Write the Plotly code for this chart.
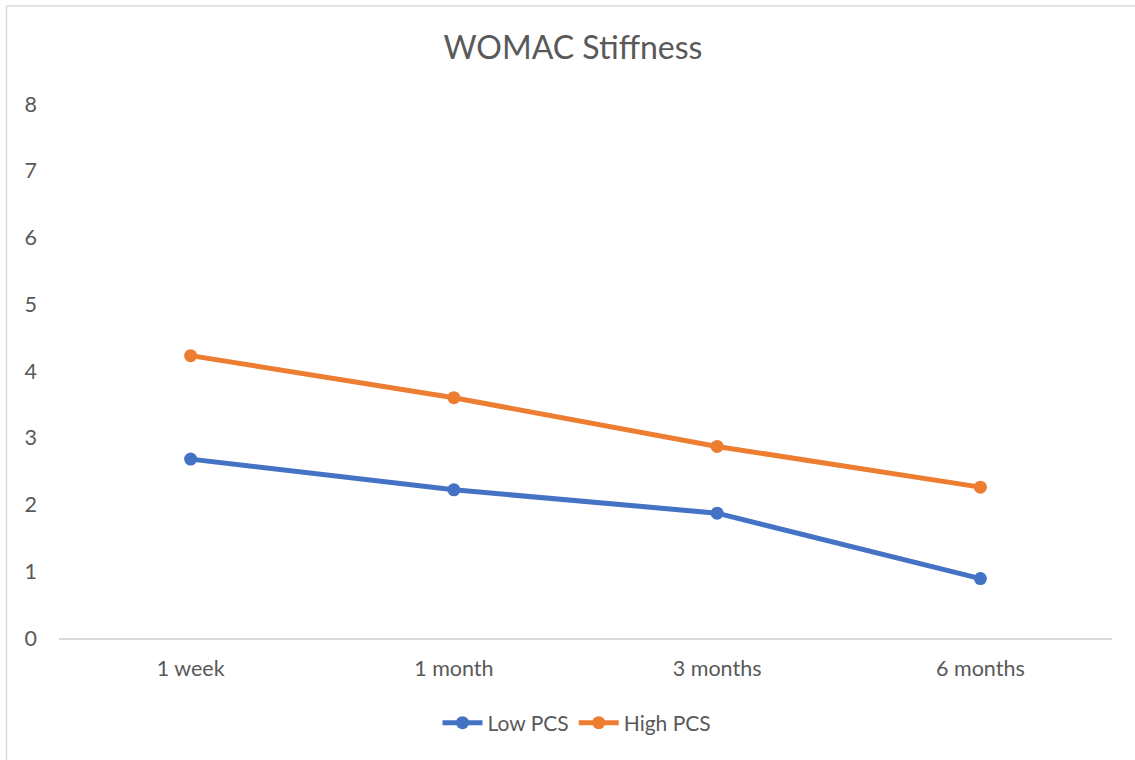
import plotly.graph_objects as go

categories = ["1 week", "1 month", "3 months", "6 months"]
low_pcs = [2.68, 2.22, 1.87, 0.89]
high_pcs = [4.23, 3.60, 2.87, 2.26]
y_ticks = [0, 1, 2, 3, 4, 5, 6, 7, 8]

W, H = 1135, 760
L, R, T, B = 59, 23, 104, 122
pw, ph = W - L - R, H - T - B
FONT = "Lato, 'Open Sans', sans-serif"
TXT = "#595959"

fig = go.Figure()
fig.add_trace(go.Scatter(x=categories, y=low_pcs, name="Low PCS", mode="lines+markers",
                         line=dict(color="#4472C4", width=5), marker=dict(size=13, color="#4472C4")))
fig.add_trace(go.Scatter(x=categories, y=high_pcs, name="High PCS", mode="lines+markers",
                         line=dict(color="#ED7D31", width=5), marker=dict(size=13, color="#ED7D31")))

def px(x):
    return (x - L) / pw

def py(y):
    return (H - B - y) / ph

border = "#D9D9D9"
shapes = [
    dict(type="line", xref="paper", yref="paper", x0=px(6.5), x1=px(6.5), y0=py(6), y1=py(H + 5), line=dict(color=border, width=1.5)),
    dict(type="line", xref="paper", yref="paper", x0=px(6.5), x1=px(W + 5), y0=py(6), y1=py(6), line=dict(color=border, width=1.5)),
]

fig.update_layout(
    width=W, height=H,
    margin=dict(l=L, r=R, t=T, b=B),
    paper_bgcolor="white", plot_bgcolor="white",
    font=dict(family=FONT, color=TXT, size=21),
    title=dict(text="WOMAC Stiffness", font=dict(size=32, color=TXT, family=FONT),
               x=573 / W, xref="container", xanchor="center",
               y=1 - 48 / H, yref="container", yanchor="middle"),
    xaxis=dict(type="category", range=[-0.5, 3.5], showgrid=False, showline=True,
               linecolor=border, linewidth=1.5, ticks="", tickfont=dict(size=21.5, color=TXT),
               ticklabelstandoff=10, zeroline=False),
    yaxis=dict(range=[0, 8], tickvals=y_ticks, showgrid=False, showline=False, zeroline=False,
               ticks="", tickfont=dict(size=21.5, color=TXT), ticklabelstandoff=21),
    legend=dict(orientation="h", x=0.5 + (577 - W / 2) / W, xref="container", xanchor="center",
                y=1 - 723 / H, yref="container", yanchor="middle",
                font=dict(size=21, color=TXT), itemwidth=40, traceorder="normal"),
    shapes=shapes,
    showlegend=True,
)

fig.write_html("out.html", config={"displayModeBar": False},
               post_script="document.body.style.margin='0';")
